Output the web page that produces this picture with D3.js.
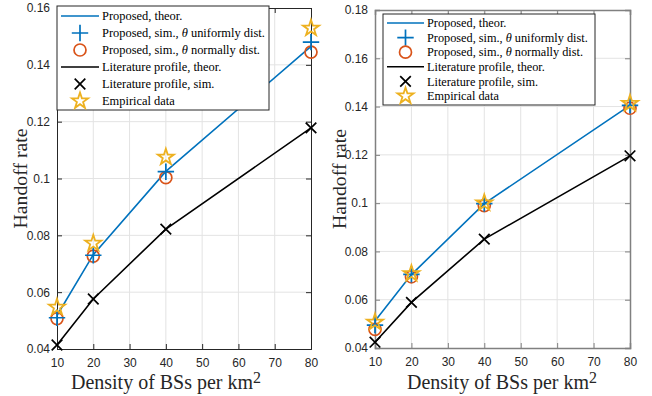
<!DOCTYPE html>
<html>
<head>
<meta charset="utf-8">
<script src="https://cdn.jsdelivr.net/npm/d3@7"></script>
<style>
  body { margin: 0; background: #fff; }
  svg { display: block; }
</style>
</head>
<body>
<svg id="chart" width="652" height="396"></svg>
<script>
// x values (density of BSs per km^2)
const density = [10, 20, 40, 80];
const xTicks = [10, 20, 30, 40, 50, 60, 70, 80];

// left panel
const leftPropTheor = [0.0518, 0.0732, 0.1025, 0.1465];
const leftPropUnif  = [0.0510, 0.0730, 0.1024, 0.1480];
const leftPropNorm  = [0.0507, 0.0727, 0.1003, 0.1445];
const leftLitTheor  = [0.0414, 0.0576, 0.0822, 0.1178];
const leftLitSim    = [0.0414, 0.0576, 0.0822, 0.1178];
const leftEmp       = [0.0547, 0.0772, 0.1075, 0.1529];
const leftYTicks    = [0.04, 0.06, 0.08, 0.1, 0.12, 0.14, 0.16];

// right panel
const rightPropTheor = [0.0512, 0.0704, 0.0998, 0.1405];
const rightPropUnif  = [0.0495, 0.0705, 0.0998, 0.1405];
const rightPropNorm  = [0.0477, 0.0695, 0.0990, 0.1393];
const rightLitTheor  = [0.0424, 0.0589, 0.0851, 0.1196];
const rightLitSim    = [0.0424, 0.0589, 0.0851, 0.1196];
const rightEmp       = [0.0507, 0.0708, 0.1001, 0.1413];
const rightYTicks    = [0.04, 0.06, 0.08, 0.1, 0.12, 0.14, 0.16, 0.18];

const legendLabels = [
  "Proposed, theor.",
  "Proposed, sim., θ uniformly dist.",
  "Proposed, sim., θ normally dist.",
  "Literature profile, theor.",
  "Literature profile, sim.",
  "Empirical data"
];

const blue = "#0072BD", orange = "#D95319", yellow = "#EDB120";
const serif = "'Liberation Serif', 'Times New Roman', serif";
const sans = "'Liberation Sans', Arial, sans-serif";

const svg = d3.select("#chart");

// marker generators
const plusPath = d3.symbol(d3.symbolPlus || d3.symbolCross, 90)();
const timesPath = d3.symbol(d3.symbolTimes || d3.symbolCross, 75)();
const starPath = d3.symbol(d3.symbolStar, 80)();

function marker(g, type, x, y) {
  if (type == "plus") {
    g.append("path").attr("d", plusPath).attr("transform", `translate(${x},${y})`)
      .attr("fill", "none").attr("stroke", blue).attr("stroke-width", 1.7);
  } else if (type == "circle") {
    g.append("circle").attr("cx", x).attr("cy", y).attr("r", 6)
      .attr("fill", "none").attr("stroke", orange).attr("stroke-width", 1.7);
  } else if (type == "times") {
    g.append("path").attr("d", timesPath).attr("transform", `translate(${x},${y})`)
      .attr("fill", "none").attr("stroke", "#000").attr("stroke-width", 1.7);
  } else if (type == "star") {
    g.append("path").attr("d", starPath).attr("transform", `translate(${x},${y})`)
      .attr("fill", "none").attr("stroke", yellow).attr("stroke-width", 1.8);
  }
}

// scale a text's font so it spans the given width
function fitWidth(sel, target) {
  const fs = +sel.attr("font-size");
  const w = sel.node().getComputedTextLength();
  if (w > 0) sel.attr("font-size", fs * target / w);
  return +sel.attr("font-size");
}

function drawPanel(p) {
  const x = d3.scaleLinear().domain([10, 80]).range([p.left, p.right]);
  const y = d3.scaleLinear().domain([0.04, p.ymax]).range([p.bottom, p.top]);
  const g = svg.append("g");

  // grid
  g.append("g").selectAll("line").data(xTicks.slice(1, -1)).enter().append("line")
    .attr("x1", d => x(d)).attr("x2", d => x(d))
    .attr("y1", p.top).attr("y2", p.bottom)
    .attr("stroke", "#e3e3e3").attr("stroke-width", 1);
  g.append("g").selectAll("line").data(p.yTicks.slice(1, -1)).enter().append("line")
    .attr("y1", d => y(d)).attr("y2", d => y(d))
    .attr("x1", p.left).attr("x2", p.right)
    .attr("stroke", "#e3e3e3").attr("stroke-width", 1);

  // axes (ticks inside, box)
  const fmt = d => String(+d.toFixed(2));
  const xAxis = g.append("g").attr("transform", `translate(0,${p.bottom})`)
    .call(d3.axisBottom(x).tickValues(xTicks).tickFormat(d3.format("d")).tickSize(-5).tickPadding(9));
  const yAxis = g.append("g").attr("transform", `translate(${p.left},0)`)
    .call(d3.axisLeft(y).tickValues(p.yTicks).tickFormat(fmt).tickSize(-5).tickPadding(7));
  const xTop = g.append("g").attr("transform", `translate(0,${p.top})`)
    .call(d3.axisTop(x).tickValues(xTicks).tickFormat("").tickSize(-5));
  const yRight = g.append("g").attr("transform", `translate(${p.right},0)`)
    .call(d3.axisRight(y).tickValues(p.yTicks).tickFormat("").tickSize(-5));
  [xAxis, yAxis, xTop, yRight].forEach(a => {
    a.select(".domain").attr("stroke", p.axisColor).attr("stroke-width", p.axisWidth);
    a.selectAll(".tick line").attr("stroke", p.axisColor);
    a.selectAll("text").attr("font-family", sans).attr("font-size", 12).attr("fill", "#262626");
  });

  // lines
  const line = d3.line().x((d, i) => x(density[i])).y(d => y(d));
  g.append("path").datum(p.propTheor).attr("d", line)
    .attr("fill", "none").attr("stroke", blue).attr("stroke-width", 1.6);
  g.append("path").datum(p.litTheor).attr("d", line)
    .attr("fill", "none").attr("stroke", "#000").attr("stroke-width", 1.6);

  // markers
  p.litSim.forEach((v, i) => marker(g, "times", x(density[i]), y(v)));
  p.propNorm.forEach((v, i) => marker(g, "circle", x(density[i]), y(v)));
  p.propUnif.forEach((v, i) => marker(g, "plus", x(density[i]), y(v)));
  p.emp.forEach((v, i) => marker(g, "star", x(density[i]), y(v)));

  // axis labels
  const yl = g.append("text").attr("transform", `translate(${p.ylabelX},${(p.top + p.bottom) / 2}) rotate(-90)`)
    .attr("text-anchor", "middle").attr("dy", "0.35em")
    .attr("font-family", serif).attr("font-size", 20).attr("fill", "#262626")
    .text("Handoff rate");
  fitWidth(yl, 100);
  const xl = g.append("text").attr("x", p.xlabelX).attr("y", 389)
    .attr("text-anchor", "middle")
    .attr("font-family", serif).attr("font-size", 20).attr("fill", "#262626");
  xl.append("tspan").text("Density of BSs per km");
  const fs = fitWidth(xl, 182);
  xl.append("tspan").attr("dy", -6).attr("font-size", fs * 0.8).text("2");

  // legend
  const L = p.legend;
  const lg = g.append("g");
  lg.append("rect").attr("x", L.x).attr("y", L.y).attr("width", L.w).attr("height", L.h)
    .attr("fill", "#fff").attr("stroke", "#262626").attr("stroke-width", 1);
  const types = ["line-blue", "plus", "circle", "line-black", "times", "star"];
  const texts = [];
  types.forEach((t, i) => {
    const cy = L.y + L.first + i * L.step;
    const mx = (L.lx1 + L.lx2) / 2;
    if (t == "line-blue" || t == "line-black") {
      lg.append("line").attr("x1", L.lx1).attr("x2", L.lx2).attr("y1", cy).attr("y2", cy)
        .attr("stroke", t == "line-blue" ? blue : "#000").attr("stroke-width", 1.6);
    } else {
      marker(lg, t, mx, cy);
    }
    const tx = lg.append("text").attr("x", L.tx).attr("y", cy).attr("dy", "0.35em")
      .attr("font-family", serif).attr("font-size", 14).attr("fill", "#000");
    const lab = legendLabels[i];
    if (lab.indexOf("θ") >= 0) {
      const parts = lab.split("θ");
      tx.append("tspan").text(parts[0]);
      tx.append("tspan").attr("font-style", "italic").text("θ");
      tx.append("tspan").text(parts[1]);
    } else {
      tx.text(lab);
    }
    texts.push(tx);
  });
  // size legend font from the longest entry
  const lfs = fitWidth(texts[1], L.textW);
  texts.forEach(t => t.attr("font-size", lfs));
}

drawPanel({
  left: 57, right: 311, top: 8, bottom: 349, ymax: 0.16, yTicks: leftYTicks,
  propTheor: leftPropTheor, propUnif: leftPropUnif, propNorm: leftPropNorm,
  litTheor: leftLitTheor, litSim: leftLitSim, emp: leftEmp,
  axisColor: "#262626", axisWidth: 1, ylabelX: 20, xlabelX: 166,
  legend: { x: 57, y: 6, w: 212, h: 104, first: 10, step: 17, lx1: 61, lx2: 99, tx: 102, textW: 163 }
});

drawPanel({
  left: 375, right: 630, top: 10, bottom: 348, ymax: 0.18, yTicks: rightYTicks,
  propTheor: rightPropTheor, propUnif: rightPropUnif, propNorm: rightPropNorm,
  litTheor: rightLitTheor, litSim: rightLitSim, emp: rightEmp,
  axisColor: "#808080", axisWidth: 1.5, ylabelX: 339, xlabelX: 502,
  legend: { x: 383, y: 14, w: 212, h: 91, first: 9, step: 14.6, lx1: 387, lx2: 424, tx: 427, textW: 161 }
});
</script>
</body>
</html>
